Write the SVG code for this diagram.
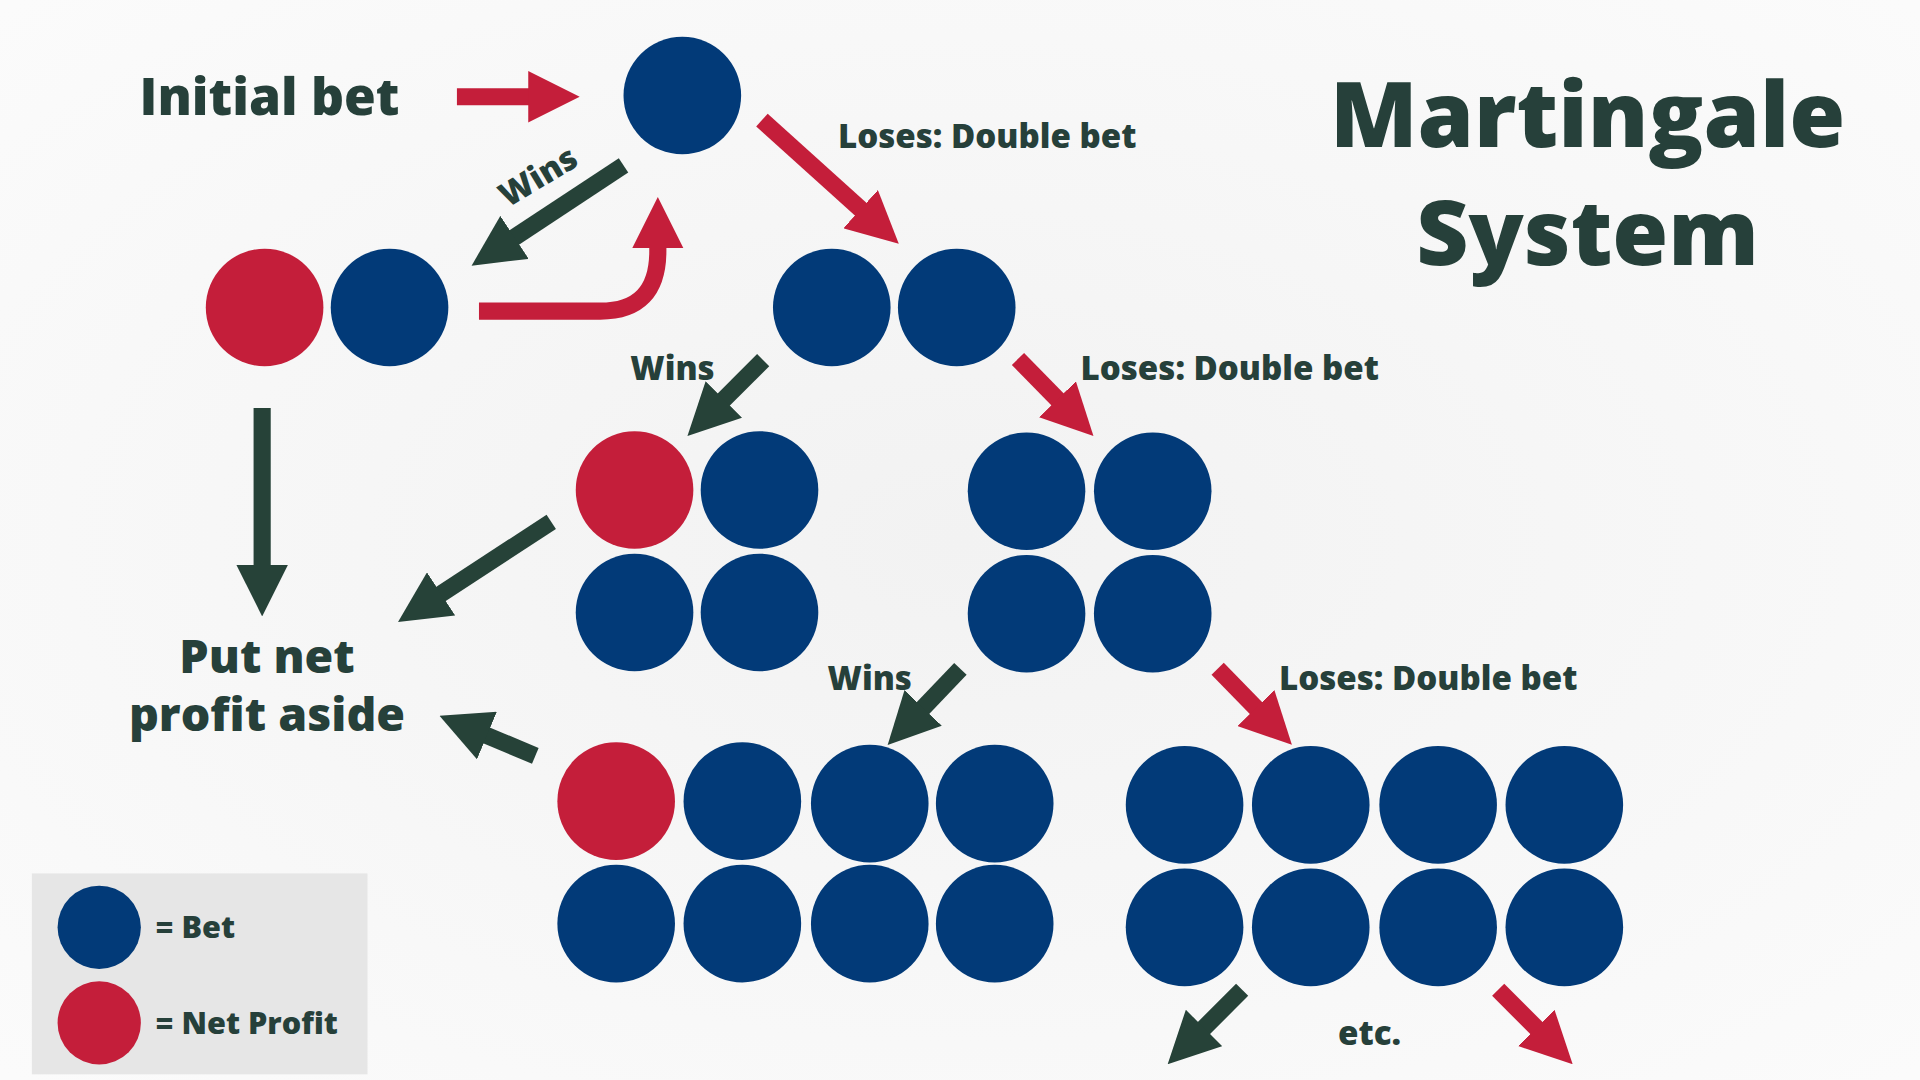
<svg xmlns="http://www.w3.org/2000/svg" width="1920" height="1080" viewBox="0 0 1920 1080">
<defs>
<style>
.b{fill:#023a78}.r{fill:#c41e3a}
.t{font-family:"Open Sans","Liberation Sans",sans-serif;font-weight:800;fill:#26403a}
.ar{stroke:#c41e3a;stroke-width:14;fill:none;marker-end:url(#mr)}
.ad{stroke:#264238;stroke-width:14;fill:none;marker-end:url(#md)}
</style>
<marker id="mr" viewBox="0 0 10 10" refX="4" refY="5" markerWidth="3" markerHeight="3" orient="auto"><path d="M0,0L10,5L0,10z" fill="#c41e3a"/></marker>
<marker id="md" viewBox="0 0 10 10" refX="4" refY="5" markerWidth="3" markerHeight="3" orient="auto"><path d="M0,0L10,5L0,10z" fill="#264238"/></marker>
<radialGradient id="bg" cx="0.5" cy="0.5" r="0.7"><stop offset="0" stop-color="#f2f2f2"/><stop offset="1" stop-color="#fbfbfb"/></radialGradient>
</defs>
<rect width="1920" height="1080" fill="url(#bg)"/>
<g transform="scale(1.225)">
<g id="connectors">
<line class="ar" x1="373" y1="79" x2="448" y2="79"/>
<line class="ar" x1="622" y1="98" x2="715" y2="182"/>
<line class="ar" x1="831" y1="293" x2="875" y2="338"/>
<line class="ar" x1="994" y1="546" x2="1037" y2="590"/>
<line class="ar" x1="1223" y1="808" x2="1266" y2="851"/>
<path class="ar" d="M391,254 H490 Q537,254 537,205 V186"/>
<line class="ad" x1="509" y1="135" x2="406" y2="203"/>
<line class="ad" x1="623" y1="294" x2="579" y2="338"/>
<line class="ad" x1="214" y1="333" x2="214" y2="478"/>
<line class="ad" x1="450" y1="426" x2="346" y2="494"/>
<line class="ad" x1="784" y1="546" x2="742" y2="590"/>
<line class="ad" x1="437" y1="617" x2="382" y2="594"/>
<line class="ad" x1="1014" y1="808" x2="971" y2="851"/>
</g>
<g id="n0"><circle class="b" cx="557" cy="78" r="48"/></g>
<g id="n1"><circle class="r" cx="216" cy="251" r="48"/><circle class="b" cx="318" cy="251" r="48"/></g>
<g id="n2"><circle class="b" cx="679" cy="251" r="48"/><circle class="b" cx="781" cy="251" r="48"/></g>
<g id="n3"><circle class="r" cx="518" cy="400" r="48"/><circle class="b" cx="620" cy="400" r="48"/><circle class="b" cx="518" cy="500" r="48"/><circle class="b" cx="620" cy="500" r="48"/></g>
<g id="n4"><circle class="b" cx="838" cy="401" r="48"/><circle class="b" cx="941" cy="401" r="48"/><circle class="b" cx="838" cy="501" r="48"/><circle class="b" cx="941" cy="501" r="48"/></g>
<g id="n5"><circle class="r" cx="503" cy="654" r="48"/><circle class="b" cx="606" cy="654" r="48"/><circle class="b" cx="710" cy="656" r="48"/><circle class="b" cx="812" cy="656" r="48"/>
<circle class="b" cx="503" cy="754" r="48"/><circle class="b" cx="606" cy="754" r="48"/><circle class="b" cx="710" cy="754" r="48"/><circle class="b" cx="812" cy="754" r="48"/></g>
<g id="n6"><circle class="b" cx="967" cy="657" r="48"/><circle class="b" cx="1070" cy="657" r="48"/><circle class="b" cx="1174" cy="657" r="48"/><circle class="b" cx="1277" cy="657" r="48"/>
<circle class="b" cx="967" cy="757" r="48"/><circle class="b" cx="1070" cy="757" r="48"/><circle class="b" cx="1174" cy="757" r="48"/><circle class="b" cx="1277" cy="757" r="48"/></g>
<g id="labels">
<text class="t" x="220" y="94" font-size="42" text-anchor="middle">Initial bet</text>
<text class="t" x="1296" y="120" font-size="74" text-anchor="middle">Martingale</text>
<text class="t" x="1296" y="216" font-size="74" text-anchor="middle">System</text>
<text class="t" x="684" y="121" font-size="27">Loses: Double bet</text>
<text class="t" x="882" y="310" font-size="27">Loses: Double bet</text>
<text class="t" x="1044" y="563" font-size="27">Loses: Double bet</text>
<text class="t" x="444" y="152" font-size="27" text-anchor="middle" transform="rotate(-31 444 152)">Wins</text>
<text class="t" x="549" y="310" font-size="27" text-anchor="middle">Wins</text>
<text class="t" x="710" y="563" font-size="27" text-anchor="middle">Wins</text>
<text class="t" x="1118" y="853" font-size="27" text-anchor="middle">etc.</text>
<text class="t" x="218" y="549" font-size="38" text-anchor="middle">Put net</text>
<text class="t" x="218" y="597" font-size="38" text-anchor="middle">profit aside</text>
</g>
<g id="legend">
<rect x="26" y="713" width="274" height="164" fill="#e6e6e6"/>
<circle class="b" cx="81" cy="757" r="34"/>
<circle class="r" cx="81" cy="835" r="34"/>
<text class="t" x="127" y="766" font-size="25">= Bet</text>
<text class="t" x="127" y="844" font-size="25">= Net Profit</text>
</g>
</g>
</svg>
